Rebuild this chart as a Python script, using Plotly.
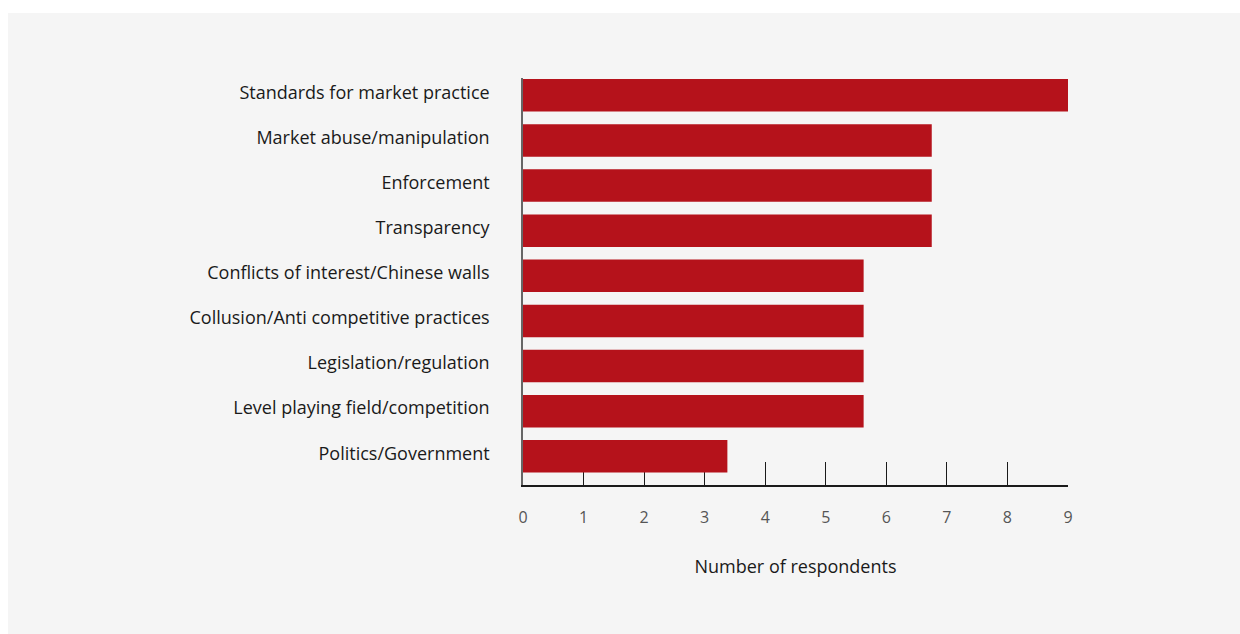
import plotly.graph_objects as go

# Survey topics (top to bottom) and respondent counts
topics = [
    "Standards for market practice",
    "Market abuse/manipulation",
    "Enforcement",
    "Transparency",
    "Conflicts of interest/Chinese walls",
    "Collusion/Anti competitive practices",
    "Legislation/regulation",
    "Level playing field/competition",
    "Politics/Government",
]
respondents = [9, 6.75, 6.75, 6.75, 5.625, 5.625, 5.625, 5.625, 3.375]
x_ticks = [0, 1, 2, 3, 4, 5, 6, 7, 8, 9]

BAR_RED = "#b5121b"
PANEL_GREY = "#f5f5f5"
FONT = "Open Sans"

positions = list(range(len(topics)))

fig = go.Figure(
    go.Bar(
        x=respondents,
        y=positions,
        orientation="h",
        marker=dict(color=BAR_RED, line=dict(width=0)),
        width=0.72,
        hoverinfo="skip",
    )
)

W, H = 1240, 634
L, R, T, B = 523, 172, 78, 149
pw, ph = W - L - R, H - T - B

def px_to_paper_x(px):
    return (px - L) / pw

def px_to_paper_y(py):
    return (H - B - py) / ph

# Light grey panel behind the whole chart
fig.add_shape(
    type="rect", xref="paper", yref="paper", layer="below",
    x0=px_to_paper_x(8), x1=px_to_paper_x(W + 2),
    y0=px_to_paper_y(H + 2), y1=px_to_paper_y(13),
    fillcolor=PANEL_GREY, line=dict(width=0),
)

fig.update_layout(
    width=W, height=H,
    margin=dict(l=L, r=R, t=T, b=B, pad=0),
    paper_bgcolor="white",
    plot_bgcolor="rgba(0,0,0,0)",
    showlegend=False,
    font=dict(family=FONT, color="#1a1a1a"),
    xaxis=dict(
        range=[0, 9],
        tickvals=x_ticks,
        ticktext=[str(v) for v in x_ticks],
        ticks="inside",
        ticklen=23,
        tickwidth=1.3,
        tickcolor="#1a1a1a",
        showline=True,
        linecolor="#1a1a1a",
        linewidth=1.5,
        layer="below traces",
        showgrid=False,
        zeroline=False,
        tickfont=dict(size=16, color="#555555", family=FONT),
        ticklabelstandoff=17,
        title=dict(text="Number of respondents", font=dict(size=18, color="#1a1a1a"), standoff=33),
        fixedrange=True,
    ),
    yaxis=dict(
        range=[8.636, -0.384],
        tickvals=positions,
        ticktext=topics,
        ticks="",
        showline=True,
        linecolor="#666666",
        linewidth=1.5,
        showgrid=False,
        zeroline=False,
        tickfont=dict(size=18, color="#1a1a1a", family=FONT),
        ticklabelstandoff=28,
        ticklabelshift=3,
        fixedrange=True,
    ),
)

fig.write_html("out.html", config={"displayModeBar": False})
